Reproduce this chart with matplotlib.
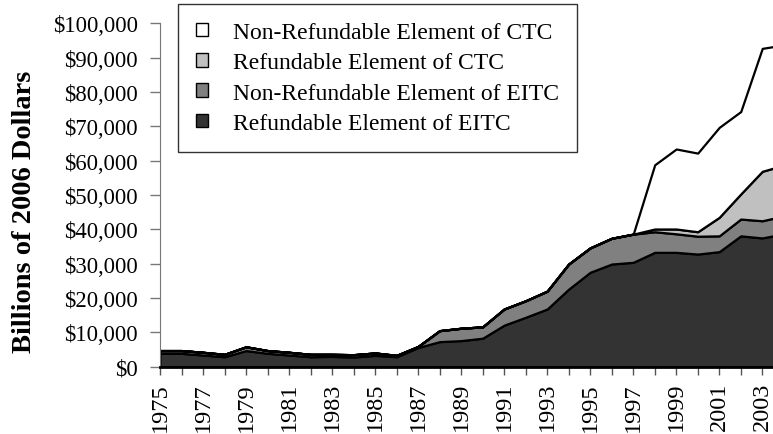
import numpy as np
import matplotlib.pyplot as plt
from matplotlib.ticker import FuncFormatter, MultipleLocator
from matplotlib.patches import Patch

plt.rcParams['font.family'] = ['Liberation Serif', 'DejaVu Serif']

# dados (valores em bilhoes de dolares de 2006)
years = list(range(1975, 2005))

eitc_ref = [3900, 3900, 3400, 2900, 4700, 3900, 3400, 2900, 3000, 2800,
            3300, 2900, 5600, 7300, 7600, 8300, 12100, 14400, 16800, 22600,
            27500, 29900, 30400, 33300, 33300, 32800, 33500, 38100, 37500, 38700]
eitc_nonref = [800, 800, 800, 700, 1100, 800, 800, 700, 600, 700,
               700, 400, 300, 3200, 3600, 3300, 4700, 4800, 5200, 7300,
               7100, 7500, 8200, 6000, 5400, 5200, 4600, 4900, 5000, 5200]
ctc_ref = [0]*23 + [800, 1400, 1300, 5400, 7300, 14400, 14800]
ctc_nonref = [0]*23 + [18700, 23300, 22900, 26200, 24000, 35800, 35000]

labels = ["Refundable Element of EITC", "Non-Refundable Element of EITC",
          "Refundable Element of CTC", "Non-Refundable Element of CTC"]
colors = ["#333333", "#808080", "#c0c0c0", "#ffffff"]

fig = plt.figure(figsize=(7.73, 4.35), dpi=100)
ax = fig.add_axes([160/773, 1 - 367.7/435, 1 - 160/773, (367.7 - 24.3)/435])

ax.stackplot(years, eitc_ref, eitc_nonref, ctc_ref, ctc_nonref,
             colors=colors, edgecolor="black", linewidth=1.6)

ax.set_xlim(1975, 2003.5)
ax.set_ylim(0, 100000)
ax.yaxis.set_major_locator(MultipleLocator(10000))
ax.yaxis.set_major_formatter(FuncFormatter(lambda v, p: "${:,.0f}".format(v)))
ax.set_xticks(years[:-1], minor=True)
ax.set_xticks(years[:-1:2])
ax.set_xticklabels([str(y) for y in years[:-1:2]], rotation=90)

for s in ["top", "right"]:
    ax.spines[s].set_visible(False)
ax.spines["left"].set_color("#777777")
ax.spines["bottom"].set_linewidth(2)
ax.tick_params(axis="y", direction="out", length=7, width=1, color="#777777",
               labelsize=16.3, pad=9)
ax.tick_params(axis="x", which="both", direction="out", length=6, width=1,
               color="#555555", labelsize=17.5, pad=5)
ax.set_ylabel("Billions of 2006 Dollars", fontsize=20.5, fontweight="bold")
ax.yaxis.set_label_coords(-0.2, 0.455)

# legenda na ordem do grafico original
handles = [Patch(facecolor=colors[i], edgecolor="black", label=labels[i])
           for i in [3, 2, 1, 0]]
leg = fig.legend(handles=handles, loc="upper left",
                 bbox_to_anchor=(178/773, 1 - 5/435), borderaxespad=0,
                 fontsize=17, frameon=True, fancybox=False, edgecolor="black",
                 handlelength=0.5, handleheight=0.5, handletextpad=1.1,
                 labelspacing=0.4, borderpad=0.75)
leg.get_frame().set_linewidth(1)

plt.savefig("out.png", dpi=100)
